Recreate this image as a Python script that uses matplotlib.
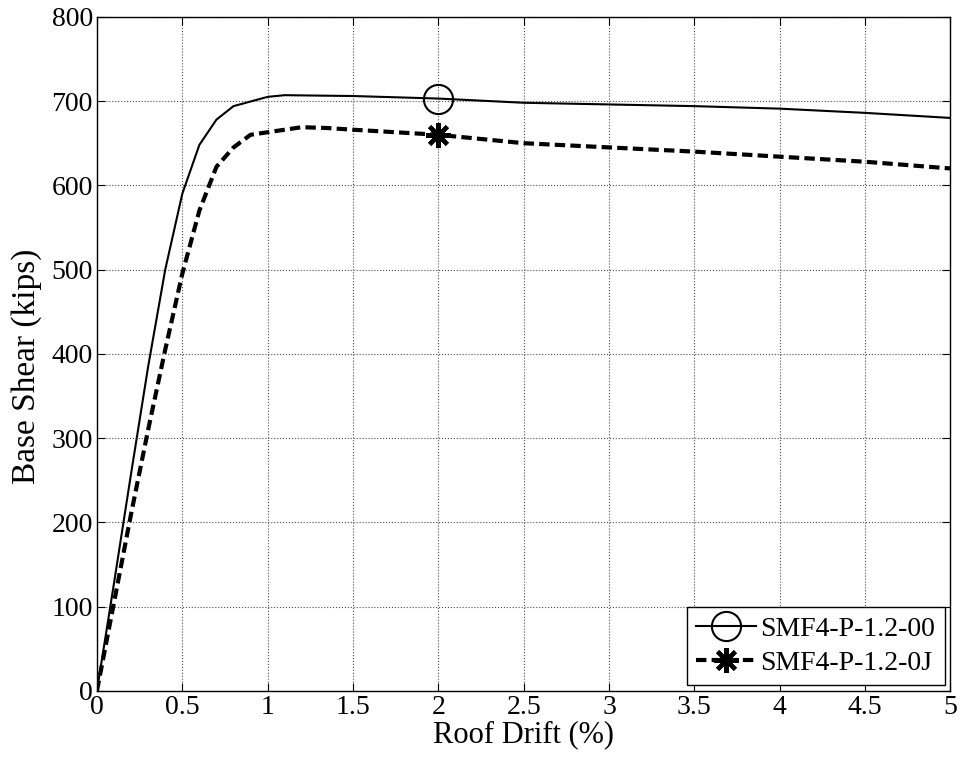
import numpy as np
import matplotlib.pyplot as plt

plt.rcParams['font.family'] = ['Liberation Serif', 'DejaVu Serif']

# pushover curves
drift_00 = [0, 0.1, 0.2, 0.3, 0.4, 0.5, 0.6, 0.7, 0.8, 1.0, 1.1, 1.5, 2.0, 2.5, 3.0, 3.5, 4.0, 4.5, 5.0]
shear_00 = [0, 128, 258, 385, 500, 590, 648, 678, 694, 705, 707, 706, 703, 698, 696, 694, 691, 686, 680]

drift_0j = [0, 0.1, 0.2, 0.3, 0.4, 0.5, 0.6, 0.7, 0.8, 0.9, 1.0, 1.2, 1.35, 1.5, 2.0, 2.5, 3.0, 3.5, 4.0, 4.5, 5.0]
shear_0j = [0, 105, 210, 310, 405, 495, 570, 622, 645, 660, 663, 669, 668, 666, 660, 650, 645, 640, 634, 628, 620]

mark_drift = 2.0
labels = ['SMF4-P-1.2-00', 'SMF4-P-1.2-0J']

fig = plt.figure(figsize=(9.6, 7.65), dpi=100)
ax = fig.add_axes([0.101, 0.097, 0.889, 0.881])

ax.plot(drift_00, shear_00, color='black', lw=1.5, marker='o', markersize=21,
        markerfacecolor='none', markeredgewidth=1.5,
        markevery=[drift_00.index(mark_drift)], label=labels[0])
ax.plot(drift_0j, shear_0j, color='black', lw=3.0, ls=(0, (2.5, 1.25)),
        marker=(8, 2, 0), markersize=18, markeredgewidth=3.0,
        markevery=[drift_0j.index(mark_drift)], label=labels[1])

ax.set_xlim(0, 5)
ax.set_ylim(0, 800)
ax.set_xticks(np.arange(0, 5.01, 0.5))
ax.set_xticklabels(['0', '0.5', '1', '1.5', '2', '2.5', '3', '3.5', '4', '4.5', '5'])
ax.set_yticks(np.arange(0, 801, 100))
ax.tick_params(direction='in', labelsize=20, length=6, top=True, right=True, pad=3)
ax.grid(True, ls=':', color='0.3', lw=0.8)
for s in ax.spines.values():
    s.set_linewidth(1.0)

ax.set_xlabel('Roof Drift (%)', fontsize=22, labelpad=0)
ax.set_ylabel('Base Shear (kips)', fontsize=24)
ax.yaxis.set_label_coords(-0.064, 0.481)

leg = ax.legend(loc='lower right', fontsize=20, fancybox=False, framealpha=1,
                edgecolor='black', borderaxespad=0.2, handlelength=2.15,
                handletextpad=0.15, borderpad=0.35, labelspacing=0.3)
leg.get_frame().set_linewidth(1.0)

fig.savefig('out.png', dpi=100)
